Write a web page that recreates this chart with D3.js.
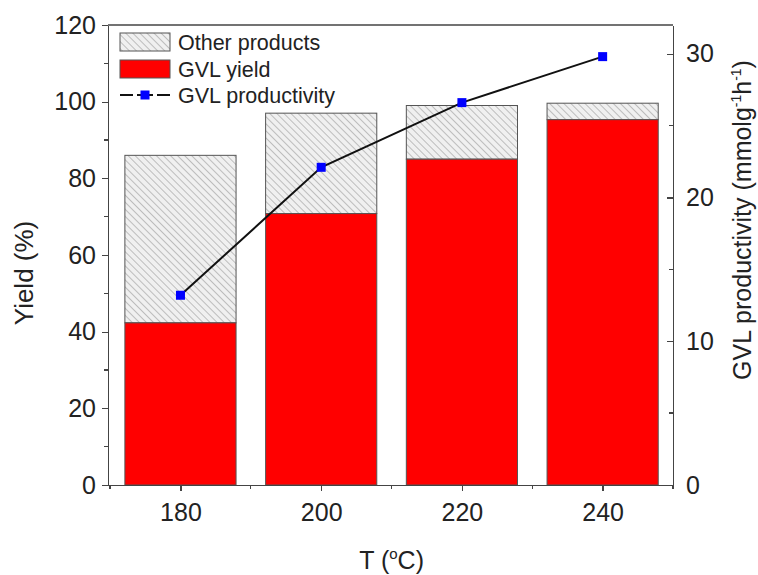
<!DOCTYPE html>
<html lang="en">
<head>
<meta charset="utf-8">
<title>GVL yield vs temperature</title>
<style>
body { margin: 0; background: #fff; }
svg text { font-family: "Liberation Sans", Arial, sans-serif; fill: #222; }
.axis path, .axis line { stroke: #444; stroke-width: 1.3; shape-rendering: crispEdges; }
.axis text { font-size: 25px; }
.bar-other { fill: url(#hatch); stroke: #555; stroke-width: 1; }
.bar-gvl { fill: #ff0000; stroke: #555; stroke-width: 1; }
</style>
</head>
<body>
<div id="chart"></div>
<script src="https://d3js.org/d3.v7.min.js"></script>
<script>
// data
var temps = [180, 200, 220, 240];
var totalYield = [86.0, 97.0, 99.0, 99.6];   // top of stacked bar (%)
var gvlYield = [42.3, 70.8, 85.0, 95.3];     // GVL yield (%)
var productivity = [13.2, 22.1, 26.6, 29.8]; // mmol g-1 h-1
var leftTicks = [0, 20, 40, 60, 80, 100, 120];
var rightTicks = [0, 10, 20, 30];
var xTicks = [180, 200, 220, 240];

var W = 758, H = 575;
var pLeft = 108, pRight = 673, pTop = 25, pBottom = 485;

var svg = d3.select("#chart").append("svg")
  .attr("width", W).attr("height", H);

var defs = svg.append("defs");
var pat = defs.append("pattern")
  .attr("id", "hatch")
  .attr("patternUnits", "userSpaceOnUse")
  .attr("width", 5).attr("height", 5)
  .attr("patternTransform", "rotate(-45)");
pat.append("rect").attr("width", 5).attr("height", 5).attr("fill", "#f0f0f0");
pat.append("line").attr("x1", 0).attr("y1", 0).attr("x2", 0).attr("y2", 5)
  .attr("stroke", "#a8a8a8").attr("stroke-width", 1.4);

var x = d3.scaleLinear().domain([169.7, 250]).range([pLeft, pRight]);
var y = d3.scaleLinear().domain([0, 120]).range([pBottom, pTop]);
var y2 = d3.scaleLinear().domain([0, 32]).range([pBottom, pTop]);
var barW = x(188) - x(172.2);

var rows = temps.map(function(t, i) {
  return { t: t, total: totalYield[i], gvl: gvlYield[i], p: productivity[i] };
});

// bars
svg.selectAll(".bar-other").data(rows).enter().append("rect")
  .attr("class", "bar-other")
  .attr("x", function(d) { return x(d.t) - barW / 2; })
  .attr("y", function(d) { return y(d.total); })
  .attr("width", barW)
  .attr("height", function(d) { return y(d.gvl) - y(d.total); });

svg.selectAll(".bar-gvl").data(rows).enter().append("rect")
  .attr("class", "bar-gvl")
  .attr("x", function(d) { return x(d.t) - barW / 2; })
  .attr("y", function(d) { return y(d.gvl); })
  .attr("width", barW)
  .attr("height", function(d) { return pBottom - y(d.gvl); });

// productivity line
var line = d3.line()
  .x(function(d) { return x(d.t); })
  .y(function(d) { return y2(d.p); });
svg.append("path").datum(rows)
  .attr("d", line)
  .attr("fill", "none")
  .attr("stroke", "#111")
  .attr("stroke-width", 2);
svg.selectAll(".pt").data(rows).enter().append("rect")
  .attr("class", "pt")
  .attr("x", function(d) { return x(d.t) - 4.5; })
  .attr("y", function(d) { return y2(d.p) - 4.5; })
  .attr("width", 9).attr("height", 9)
  .attr("fill", "#0000ff");

// frame top
svg.append("line")
  .attr("x1", pLeft).attr("x2", pRight).attr("y1", pTop).attr("y2", pTop)
  .attr("stroke", "#444").attr("stroke-width", 1.3);

// axes
var minorLeft = d3.range(10, 120, 20);
var minorRight = [5, 15, 25];
var minorX = [170, 190, 210, 230, 250];

var gL = svg.append("g").attr("class", "axis")
  .attr("transform", "translate(" + pLeft + ",0)")
  .call(d3.axisLeft(y).tickValues(leftTicks).tickSize(6).tickPadding(6).tickSizeOuter(0));
gL.selectAll(".minor").data(minorLeft).enter().append("line")
  .attr("class", "minor").attr("x1", 0).attr("x2", -4)
  .attr("y1", function(d) { return y(d); }).attr("y2", function(d) { return y(d); });

var gR = svg.append("g").attr("class", "axis")
  .attr("transform", "translate(" + pRight + ",0)")
  .call(d3.axisRight(y2).tickValues(rightTicks).tickSize(-6).tickPadding(13).tickSizeOuter(0));
gR.selectAll(".minor").data(minorRight).enter().append("line")
  .attr("class", "minor").attr("x1", 0).attr("x2", -4)
  .attr("y1", function(d) { return y2(d); }).attr("y2", function(d) { return y2(d); });

var gB = svg.append("g").attr("class", "axis")
  .attr("transform", "translate(0," + pBottom + ")")
  .call(d3.axisBottom(x).tickValues(xTicks).tickSize(6).tickPadding(12).tickSizeOuter(0));
gB.selectAll(".minor").data(minorX).enter().append("line")
  .attr("class", "minor").attr("y1", 0).attr("y2", 4)
  .attr("x1", function(d) { return x(d); }).attr("x2", function(d) { return x(d); });

// axis titles
svg.append("text")
  .attr("transform", "translate(24,273) rotate(-90)")
  .attr("text-anchor", "middle")
  .attr("dominant-baseline", "central")
  .attr("font-size", 26)
  .text("Yield (%)");

var tx = svg.append("text")
  .attr("x", x(210)).attr("y", 569)
  .attr("text-anchor", "middle")
  .attr("font-size", 25);
tx.append("tspan").text("T (");
tx.append("tspan").attr("font-size", 15).attr("dy", -10).text("o");
tx.append("tspan").attr("dy", 10).text("C)");

var tr = svg.append("text")
  .attr("transform", "translate(751,220) rotate(-90)")
  .attr("text-anchor", "middle")
  .attr("font-size", 25);
tr.append("tspan").text("GVL productivity (mmolg");
tr.append("tspan").attr("font-size", 14).attr("dy", -10).text("-1");
tr.append("tspan").attr("dy", 10).text("h");
tr.append("tspan").attr("font-size", 14).attr("dy", -10).text("-1");
tr.append("tspan").attr("dy", 10).text(")");

// legend
var leg = svg.append("g");
leg.append("rect").attr("x", 120).attr("y", 33).attr("width", 50).attr("height", 18)
  .attr("fill", "url(#hatch)").attr("stroke", "#555");
leg.append("text").attr("x", 178).attr("y", 50).attr("font-size", 21.5).text("Other products");
leg.append("rect").attr("x", 120).attr("y", 60).attr("width", 50).attr("height", 18)
  .attr("fill", "#ff0000").attr("stroke", "#555");
leg.append("text").attr("x", 178).attr("y", 77).attr("font-size", 21.5).text("GVL yield");
leg.append("line").attr("x1", 120).attr("x2", 170).attr("y1", 95).attr("y2", 95)
  .attr("stroke", "#111").attr("stroke-width", 2);
leg.append("rect").attr("x", 140.5).attr("y", 90.5).attr("width", 9).attr("height", 9)
  .attr("fill", "#0000ff");
leg.append("rect").attr("x", 133).attr("y", 92).attr("width", 4).attr("height", 6).attr("fill", "#fff");
leg.append("rect").attr("x", 153).attr("y", 92).attr("width", 4).attr("height", 6).attr("fill", "#fff");
leg.append("text").attr("x", 178).attr("y", 103).attr("font-size", 21.5).text("GVL productivity");
</script>
</body>
</html>
